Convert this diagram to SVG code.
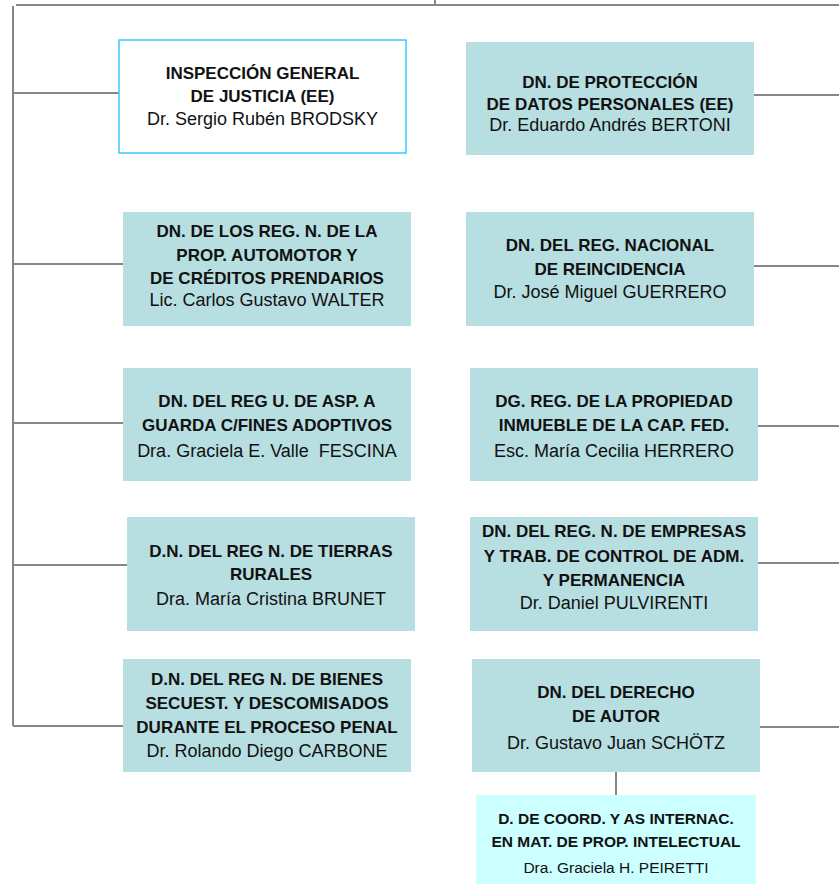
<svg xmlns="http://www.w3.org/2000/svg" width="839" height="884" viewBox="0 0 839 884">
<style>
.ln{stroke:#868686;stroke-width:2;fill:none}
.bx{fill:#B7DEE1}
.t{font-family:"Liberation Sans",Arial,sans-serif;text-anchor:middle;fill:#111}
.b{font-weight:bold;font-size:17px}
.r{font-size:18px}
.sb{font-weight:bold;font-size:15.5px}
.sr{font-size:15.5px}
</style>
<rect width="839" height="884" fill="#fff"/>
<g id="connectors">
<path class="ln" d="M16 5H839M435 0V5M13 6V726M13 726H123M14 93H119M754 95H839M14 264H123M754 266H839M14 423H123M758 426H839M14 565H127M758 563H839M760 727H839M616 772V795"/>
</g>
<g id="n1">
<rect x="119" y="40" width="287" height="113" fill="#fff" stroke="#33CCFF" stroke-width="1.5"/>
<text class="t b" x="262.5" y="79">INSPECCIÓN GENERAL</text>
<text class="t b" x="262.5" y="101.7">DE JUSTICIA (EE)</text>
<text class="t r" x="262.5" y="125">Dr. Sergio Rubén BRODSKY</text>
</g>
<g id="n2">
<rect class="bx" x="466" y="42" width="288" height="113"/>
<text class="t b" x="610" y="88.3">DN. DE PROTECCIÓN</text>
<text class="t b" x="610" y="110">DE DATOS PERSONALES (EE)</text>
<text class="t r" x="610" y="131">Dr. Eduardo Andrés BERTONI</text>
</g>
<g id="n3">
<rect class="bx" x="123" y="212" width="288" height="114"/>
<text class="t b" x="267" y="237.3">DN. DE LOS REG. N. DE LA</text>
<text class="t b" x="267" y="260.5">PROP. AUTOMOTOR Y</text>
<text class="t b" x="267" y="283.5">DE CRÉDITOS PRENDARIOS</text>
<text class="t r" x="267" y="306.3">Lic. Carlos Gustavo WALTER</text>
</g>
<g id="n4">
<rect class="bx" x="466" y="212" width="288" height="114"/>
<text class="t b" x="610" y="250.7">DN. DEL REG. NACIONAL</text>
<text class="t b" x="610" y="274.5">DE REINCIDENCIA</text>
<text class="t r" x="610" y="298.3">Dr. José Miguel GUERRERO</text>
</g>
<g id="n5">
<rect class="bx" x="123" y="368" width="288" height="113"/>
<text class="t b" x="267" y="406.7">DN. DEL REG U. DE ASP. A</text>
<text class="t b" x="267" y="431">GUARDA C/FINES ADOPTIVOS</text>
<text class="t r" x="267" y="456.7" xml:space="preserve">Dra. Graciela E. Valle  FESCINA</text>
</g>
<g id="n6">
<rect class="bx" x="470" y="368" width="288" height="113"/>
<text class="t b" x="614" y="406.7">DG. REG. DE LA PROPIEDAD</text>
<text class="t b" x="614" y="431">INMUEBLE DE LA CAP. FED.</text>
<text class="t r" x="614" y="456.7">Esc. María Cecilia HERRERO</text>
</g>
<g id="n7">
<rect class="bx" x="127" y="517" width="288" height="114"/>
<text class="t b" x="271" y="556.7">D.N. DEL REG N. DE TIERRAS</text>
<text class="t b" x="271" y="580.3">RURALES</text>
<text class="t r" x="271" y="605">Dra. María Cristina BRUNET</text>
</g>
<g id="n8">
<rect class="bx" x="470" y="517" width="288" height="114"/>
<text class="t b" x="614" y="537.3">DN. DEL REG. N. DE EMPRESAS</text>
<text class="t b" x="614" y="561.5">Y TRAB. DE CONTROL DE ADM.</text>
<text class="t b" x="614" y="585.7">Y PERMANENCIA</text>
<text class="t r" x="614" y="609.3">Dr. Daniel PULVIRENTI</text>
</g>
<g id="n9">
<rect class="bx" x="123" y="659" width="288" height="113"/>
<text class="t b" x="267" y="685">D.N. DEL REG N. DE BIENES</text>
<text class="t b" x="267" y="709">SECUEST. Y DESCOMISADOS</text>
<text class="t b" x="267" y="732.7">DURANTE EL PROCESO PENAL</text>
<text class="t r" x="267" y="756.7">Dr. Rolando Diego CARBONE</text>
</g>
<g id="n10">
<rect class="bx" x="472" y="659" width="288" height="113"/>
<text class="t b" x="616" y="698.3">DN. DEL DERECHO</text>
<text class="t b" x="616" y="722.3">DE AUTOR</text>
<text class="t r" x="616" y="749">Dr. Gustavo Juan SCHÖTZ</text>
</g>
<g id="n11">
<rect x="476" y="795" width="280" height="89" fill="#CCFFFF"/>
<text class="t sb" x="616" y="824.3">D. DE COORD. Y AS INTERNAC.</text>
<text class="t sb" x="616" y="847.3">EN MAT. DE PROP. INTELECTUAL</text>
<text class="t sr" x="616" y="872.7">Dra. Graciela H. PEIRETTI</text>
</g>
</svg>
